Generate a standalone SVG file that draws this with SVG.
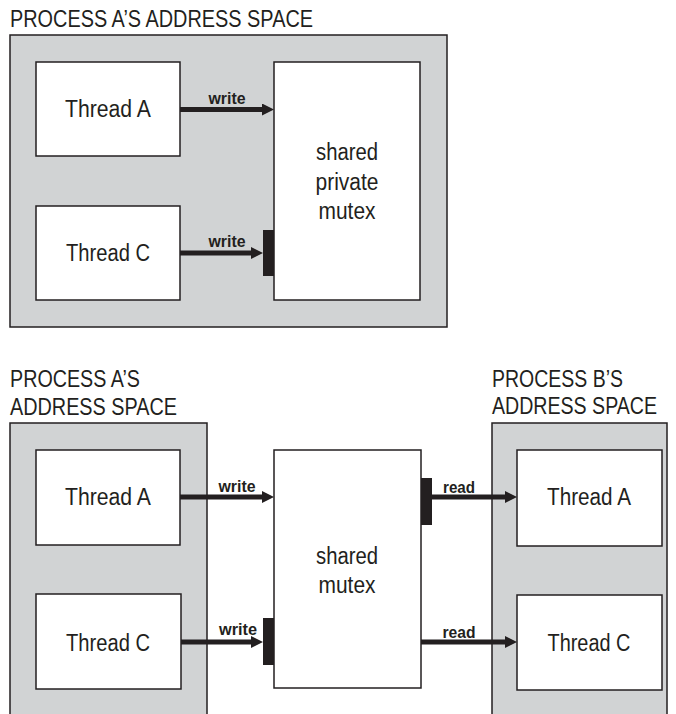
<svg xmlns="http://www.w3.org/2000/svg" width="676" height="714" viewBox="0 0 676 714">
<style>
.space{fill:#d1d3d4;stroke:#231f20;stroke-width:1.5}
.box{fill:#ffffff;stroke:#231f20;stroke-width:1.5}
.bar{fill:#231f20}
.t{font-family:"Liberation Sans",Arial,sans-serif;font-size:23px;fill:#231f20}
.c{text-anchor:middle}
.lbl{font-family:"Liberation Sans",Arial,sans-serif;font-size:16px;font-weight:bold;fill:#231f20;text-anchor:middle}
.arr{stroke:#231f20;stroke-width:5;fill:none;marker-end:url(#ah)}
</style>
<defs>
<marker id="ah" viewBox="0 0 12 12" markerWidth="12" markerHeight="12" markerUnits="userSpaceOnUse" refX="0" refY="6" orient="auto">
<path d="M0,0 L12,6 L0,12 z" fill="#231f20"/>
</marker>
</defs>

<!-- Top diagram -->
<g id="top-space">
<rect class="space" x="10" y="35" width="437" height="292"/>
<text class="t" x="10" y="27" textLength="303" lengthAdjust="spacingAndGlyphs">PROCESS A’S ADDRESS SPACE</text>
</g>
<g id="top-threadA">
<rect class="box" x="36" y="62" width="144" height="94"/>
<text class="t c" x="108" y="117" textLength="86" lengthAdjust="spacingAndGlyphs">Thread A</text>
</g>
<g id="top-threadC">
<rect class="box" x="36" y="206" width="144" height="94"/>
<text class="t c" x="108" y="261" textLength="84" lengthAdjust="spacingAndGlyphs">Thread C</text>
</g>
<g id="top-mutex">
<rect class="box" x="274" y="62" width="146" height="238"/>
<text class="t c" x="347" y="160" textLength="62" lengthAdjust="spacingAndGlyphs">shared</text>
<text class="t c" x="347" y="190" textLength="63" lengthAdjust="spacingAndGlyphs">private</text>
<text class="t c" x="347" y="219" textLength="57" lengthAdjust="spacingAndGlyphs">mutex</text>
<rect class="bar" x="263" y="230" width="11" height="46"/>
</g>

<!-- Bottom diagram -->
<g id="bottom-spaceA">
<rect class="space" x="10" y="423" width="197" height="295"/>
<text class="t" x="10" y="387" textLength="130" lengthAdjust="spacingAndGlyphs">PROCESS A’S</text>
<text class="t" x="10" y="415" textLength="167" lengthAdjust="spacingAndGlyphs">ADDRESS SPACE</text>
</g>
<g id="bottom-spaceB">
<rect class="space" x="492" y="423" width="175" height="295"/>
<text class="t" x="492" y="387" textLength="131" lengthAdjust="spacingAndGlyphs">PROCESS B’S</text>
<text class="t" x="492" y="414" textLength="165" lengthAdjust="spacingAndGlyphs">ADDRESS SPACE</text>
</g>
<g id="bottom-A-threadA">
<rect class="box" x="36" y="450" width="144" height="95"/>
<text class="t c" x="108" y="505" textLength="86" lengthAdjust="spacingAndGlyphs">Thread A</text>
</g>
<g id="bottom-A-threadC">
<rect class="box" x="36" y="594" width="145" height="95"/>
<text class="t c" x="108" y="651" textLength="84" lengthAdjust="spacingAndGlyphs">Thread C</text>
</g>
<g id="bottom-B-threadA">
<rect class="box" x="517" y="450" width="145" height="96"/>
<text class="t c" x="589" y="505" textLength="84" lengthAdjust="spacingAndGlyphs">Thread A</text>
</g>
<g id="bottom-B-threadC">
<rect class="box" x="517" y="595" width="145" height="95"/>
<text class="t c" x="589" y="651" textLength="83" lengthAdjust="spacingAndGlyphs">Thread C</text>
</g>
<g id="bottom-mutex">
<rect class="box" x="274" y="450" width="147" height="238"/>
<text class="t c" x="347" y="564" textLength="62" lengthAdjust="spacingAndGlyphs">shared</text>
<text class="t c" x="347" y="593" textLength="57" lengthAdjust="spacingAndGlyphs">mutex</text>
<rect class="bar" x="421" y="478" width="11" height="47"/>
<rect class="bar" x="263" y="618" width="11" height="47"/>
</g>

<g id="connectors">
<line class="arr" x1="180" y1="109.5" x2="262" y2="109.5"/>
<text class="lbl" x="227" y="104" textLength="37" lengthAdjust="spacingAndGlyphs">write</text>
<line class="arr" x1="180" y1="253" x2="251" y2="253"/>
<text class="lbl" x="227" y="247" textLength="37" lengthAdjust="spacingAndGlyphs">write</text>
<line class="arr" x1="180" y1="497" x2="262" y2="497"/>
<text class="lbl" x="237" y="492" textLength="37" lengthAdjust="spacingAndGlyphs">write</text>
<line class="arr" x1="181" y1="642" x2="251" y2="642"/>
<text class="lbl" x="238" y="635" textLength="38" lengthAdjust="spacingAndGlyphs">write</text>
<line class="arr" x1="432" y1="497" x2="505" y2="497"/>
<text class="lbl" x="459" y="493" textLength="32" lengthAdjust="spacingAndGlyphs">read</text>
<line class="arr" x1="421" y1="642" x2="505" y2="642"/>
<text class="lbl" x="459" y="638" textLength="33" lengthAdjust="spacingAndGlyphs">read</text>
</g>
</svg>
